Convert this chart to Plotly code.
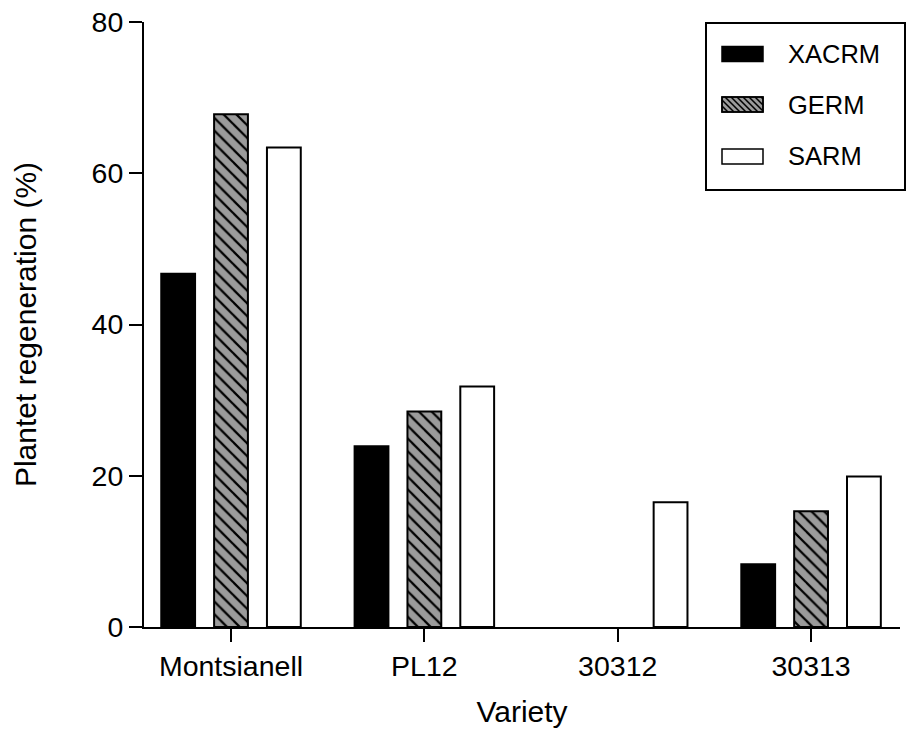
import plotly.graph_objects as go

categories = ["Montsianell", "PL12", "30312", "30313"]
series_names = ["XACRM", "GERM", "SARM"]
xacrm = [46.7, 23.9, 0, 8.3]
germ = [67.8, 28.5, 0, 15.3]
sarm = [63.4, 31.8, 16.5, 19.9]
y_ticks = [0, 20, 40, 60, 80]

values = [xacrm, germ, sarm]
fills = ["black", "#9b9b9b", "white"]
hatched = [False, True, False]

W, H = 907, 733
ML, MR, MT, MB = 144, 7, 22, 106
FONT = "Arial, Liberation Sans, sans-serif"

fig = go.Figure()
for name, vals, col, hat in zip(series_names, values, fills, hatched):
    marker = dict(color=col,
                  line=dict(color="black", width=[2 if v > 0 else 0 for v in vals]))
    if hat:
        marker["pattern"] = dict(shape="\\", fgcolor="black", bgcolor=col,
                                 size=9, solidity=0.25, fillmode="replace")
    fig.add_trace(go.Bar(x=categories, y=vals, name=name, marker=marker,
                         showlegend=False))

axis_common = dict(showline=True, linecolor="black", linewidth=2,
                   ticks="outside", ticklen=13, tickwidth=2, tickcolor="black",
                   showgrid=False, zeroline=False,
                   tickfont=dict(family=FONT, size=28.5, color="black"))

fig.update_xaxes(range=[-0.45, 3.46], title=dict(text="Variety", standoff=20,
                 font=dict(family=FONT, size=30, color="black")), **axis_common)
fig.update_yaxes(range=[0, 80], tickvals=y_ticks, ticktext=[str(v) for v in y_ticks],
                 title=dict(text="Plantet regeneration (%)", standoff=46,
                            font=dict(family=FONT, size=30, color="black")),
                 **axis_common)

# custom legend (pixel -> paper helpers)
pw, ph = W - ML - MR, H - MT - MB
def px(x):
    return (x - ML) / pw
def py(y):
    return (H - MB - y) / ph

shapes = [dict(type="rect", xref="paper", yref="paper", x0=px(706), x1=px(905),
               y0=py(190), y1=py(23), line=dict(color="black", width=2),
               fillcolor="white", layer="above")]
annotations = []
row_centers = [54, 104.5, 156.5]
sx0, sx1, sh = 722, 763, 15
for name, col, hat, cy in zip(series_names, fills, hatched, row_centers):
    y0, y1 = cy - sh / 2, cy + sh / 2
    shapes.append(dict(type="rect", xref="paper", yref="paper",
                       x0=px(sx0), x1=px(sx1), y0=py(y1), y1=py(y0),
                       fillcolor=col, line=dict(color="black", width=1.5),
                       layer="above"))
    if hat:
        step = 6
        segs = []
        c = sx0 - y1
        while c <= sx1 - y0:
            ya = max(y0, sx0 - c)
            yb = min(y1, sx1 - c)
            if yb > ya:
                segs.append("M%.5f,%.5f L%.5f,%.5f" % (px(ya + c), py(ya), px(yb + c), py(yb)))
            c += step
        shapes.append(dict(type="path", xref="paper", yref="paper", path=" ".join(segs),
                           line=dict(color="black", width=1.5), layer="above"))
        shapes.append(dict(type="rect", xref="paper", yref="paper",
                           x0=px(sx0), x1=px(sx1), y0=py(y1), y1=py(y0),
                           line=dict(color="black", width=1.5), layer="above"))
    annotations.append(dict(xref="paper", yref="paper", x=px(786), y=py(cy),
                            xanchor="left", yanchor="middle", showarrow=False,
                            text=name, font=dict(family=FONT, size=25.5, color="black")))

fig.update_layout(
    width=W, height=H, margin=dict(l=ML, r=MR, t=MT, b=MB),
    paper_bgcolor="white", plot_bgcolor="white",
    barmode="group", bargap=0.18, bargroupgap=0.36,
    shapes=shapes, annotations=annotations,
    font=dict(family=FONT, color="black"),
)

fig.write_html("out.html")
